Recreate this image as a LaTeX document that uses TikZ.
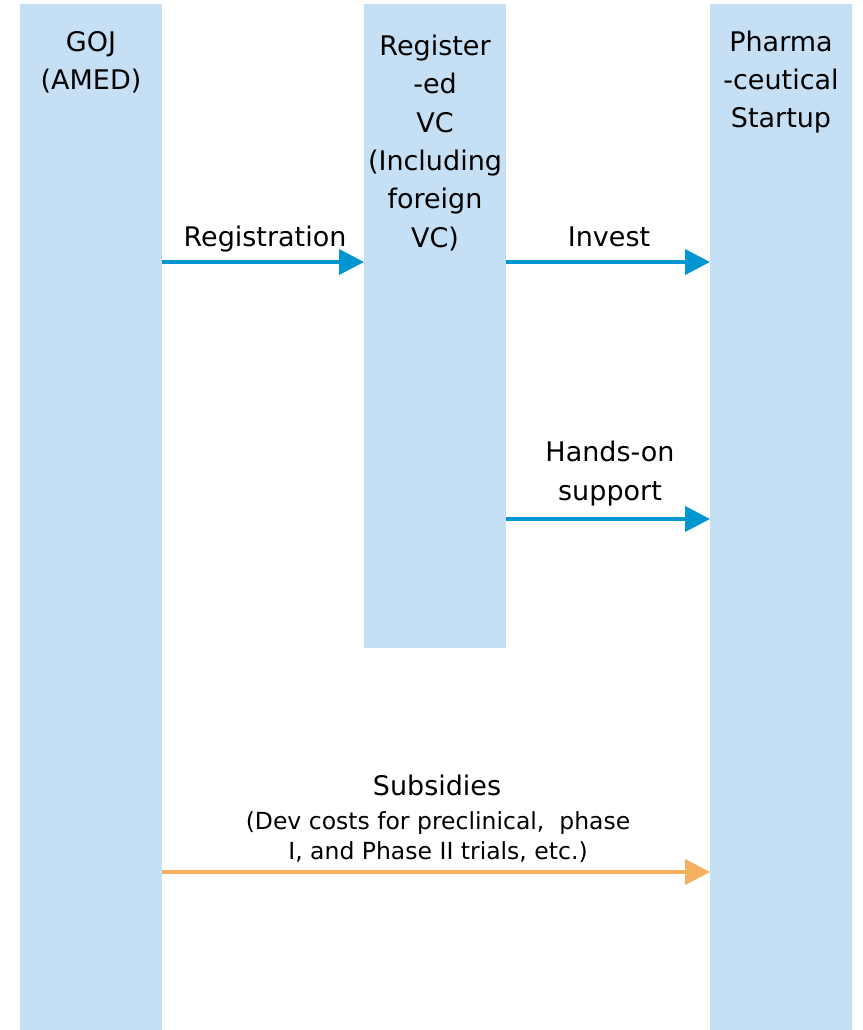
\documentclass[tikz,border=0pt]{standalone}
\usepackage{fontspec}
\setmainfont{DejaVu Sans}
\usetikzlibrary{arrows.meta}
\definecolor{colfill}{RGB}{197,224,244}
\definecolor{arrblue}{RGB}{0,150,210}
\definecolor{arrorange}{RGB}{245,175,95}
\begin{document}
\begin{tikzpicture}[x=1pt,y=-1pt,
  col/.style={fill=colfill,draw=none,inner sep=0pt,anchor=north west,minimum width=142pt},
  lbl/.style={inner sep=0pt,align=center,font=\fontsize{27}{38.3}\selectfont},
  small/.style={inner sep=0pt,align=center,font=\fontsize{23.5}{30}\selectfont},
  conn/.style={line width=4pt,-{Triangle[length=25pt,width=25pt]}}]
\useasboundingbox (0,0) rectangle (862,1030);
\node[col,minimum height=1026pt] (goj) at (20,4) {};
\node[col,minimum height=644pt] (vc) at (364,4) {};
\node[col,minimum height=1026pt] (ph) at (710,4) {};
\node[lbl,anchor=base] (gojt) at (91,90) {GOJ\\(AMED)};
\node[lbl,anchor=base] (vct) at (435,247) {Register\\-ed\\VC\\(Including\\foreign\\VC)};
\node[lbl,anchor=base] (pht) at (781,128) {Pharma\\-ceutical\\Startup};
\coordinate (r1) at (0,262);
\coordinate (r2) at (0,519);
\coordinate (r3) at (0,872);
\draw[conn,arrblue] (goj.east |- r1) -- (vc.west |- r1);
\draw[conn,arrblue] (vc.east |- r1) -- (ph.west |- r1);
\draw[conn,arrblue] (vc.east |- r2) -- (ph.west |- r2);
\draw[conn,arrorange] (goj.east |- r3) -- (ph.west |- r3);
\node[lbl,anchor=base] (l1) at (265,246) {Registration};
\node[lbl,anchor=base] (l2) at (609,246) {Invest};
\node[lbl,anchor=base] (l3) at (610,500) {Hands-on\\support};
\node[lbl,anchor=base] (l4) at (437,795) {Subsidies};
\node[small,anchor=base] (l5) at (438,859) {(Dev costs for preclinical,\ \ phase\\I, and Phase II trials, etc.)};
\end{tikzpicture}
\end{document}
